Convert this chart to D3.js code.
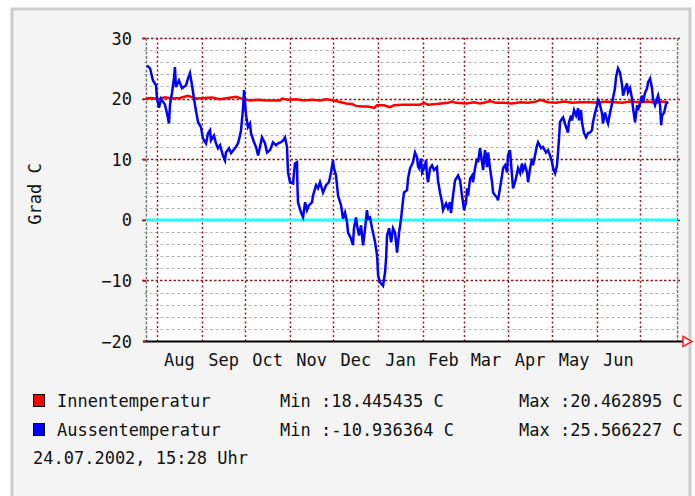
<!DOCTYPE html>
<html>
<head>
<meta charset="utf-8">
<script src="https://cdn.jsdelivr.net/npm/d3@7"></script>
<style>
  html, body { margin: 0; padding: 0; background: #fff; }
  svg { display: block; }
  text { font-family: "DejaVu Sans Mono", "Liberation Mono", monospace; font-size: 17px; fill: #111; }
</style>
</head>
<body>
<div id="chart"></div>
<script>
// days after 2001-08-01 and daily temperature readings (Grad C)
const outsideDays = [
  -6.9, -4.8, -2.8, -0.7, 0, 1.4, 2.8, 5.5, 6.9, 8.3, 9.0, 10.4, 11.8, 12.4, 13.1, 15.2, 17.3, 20.1, 21.4, 22.8,
  24.2, 26.3, 28.4, 30.4, 31.8, 33.9, 35.3, 36.7, 37.3, 39.4, 40.8, 42.2, 43.6, 45.6, 47.0, 47.7, 49.8, 51.2, 53.9, 56.0,
  57.4, 58.1, 59.5, 60.2, 61.6, 62.9, 64.3, 65.0, 67.1, 68.5, 69.9, 71.2, 72.6, 74.7, 76.1, 78.2, 80.2, 82.3, 83.7, 85.8,
  87.2, 88.5, 89.9, 90.6, 92.0, 94.1, 95.4, 96.8, 97.1, 97.5, 99.6, 101.0, 102.4, 103.7, 105.1, 107.2, 107.9, 110.0, 111.3, 112.7,
  114.8, 116.9, 118.9, 120.3, 121.7, 122.4, 123.8, 125.2, 127.3, 128.6, 130.0, 131.4, 132.1, 134.2, 135.5, 136.2, 137.6, 138.3, 139.7, 141.1,
  142.5, 143.9, 145.2, 145.9, 147.3, 148.7, 149.4, 150.8, 152.2, 152.9, 154.2, 156.3, 157.7, 158.4, 159.1, 160.5, 161.9, 163.2, 164.6, 165.3,
  166.0, 167.4, 168.8, 169.5, 170.8, 172.9, 173.6, 175.0, 177.0, 178.4, 179.8, 180.5, 181.2, 182.6, 183.3, 184.7, 186.1, 186.7, 187.4, 188.8,
  190.2, 191.6, 193.6, 194.3, 195.7, 197.1, 197.8, 199.9, 201.2, 202.6, 203.3, 204.7, 206.1, 208.2, 209.6, 210.9, 211.6, 212.3, 213.7, 214.4,
  215.1, 216.5, 217.9, 218.5, 219.9, 221.3, 222.0, 223.4, 224.8, 225.5, 226.8, 228.2, 228.9, 230.3, 231.7, 232.4, 233.8, 235.1, 235.8, 237.2,
  238.6, 239.3, 240.7, 242.1, 242.7, 244.1, 245.5, 246.2, 247.6, 249.0, 249.7, 251.1, 252.4, 253.1, 254.5, 255.9, 256.6, 258.0, 259.4, 260.0,
  261.4, 262.8, 263.5, 265.6, 267.0, 269.0, 270.4, 271.8, 273.2, 273.9, 275.3, 276.6, 277.3, 278.0, 278.7, 280.1, 280.8, 282.9, 284.2, 284.9,
  286.3, 287.0, 288.4, 289.8, 291.2, 291.8, 293.2, 293.9, 295.3, 296.7, 298.1, 299.5, 300.8, 301.5, 302.9, 304.3, 305.0, 306.4, 307.7, 308.4,
  309.8, 311.2, 311.9, 313.3, 314.7, 315.4, 316.7, 317.4, 318.8, 320.2, 321.6, 322.3, 323.7, 325.0, 325.7, 327.1, 328.5, 329.2, 330.6, 332.0,
  332.6, 334.0, 335.4, 336.1, 337.5, 338.9, 339.6, 341.0, 342.3, 343.0, 344.4, 345.8, 346.5, 347.9, 348.6, 349.3, 350.7, 352.1, 353.5
];
const outsideTemp = [
  25.5, 25, 23, 22.2, 20, 18.5, 20, 19, 17.6, 15.9, 19, 21, 23.5, 25.2, 21.9, 23, 21.7, 22.2, 23.3, 24.2,
  22.2, 18.9, 16.1, 15.3, 13.4, 12.6, 14.3, 14.8, 13.1, 13.9, 12.6, 11.8, 12.3, 10.6, 9.8, 11.1, 11.8, 11, 11.8, 12.6,
  13.9, 14.8, 18.4, 21.4, 17.2, 15.3, 15.9, 14.3, 12.8, 12, 10.6, 12, 13.6, 12.6, 11.1, 11.5, 12.8, 12.3, 12.6, 12.8,
  13.1, 13.6, 12, 7.8, 6.2, 6, 9.3, 9.5, 5.7, 2.9, 1.2, 0.4, 2.9, 1.6, 2.4, 2.9, 4, 5.7, 5.2, 6.2,
  4.5, 5.7, 6.2, 7.8, 9.8, 8.5, 7.3, 4, 2.4, 0.2, 1.2, -0.4, -2.1, -3.1, -4.2, -1.4, 0.4, -0.9, -2.6, -0.9,
  -4.2, -1.4, 1.6, 0.2, 0.4, -1.4, -2.1, -3.7, -5.9, -9.2, -10.3, -10.9, -8.7, -6.4, -2.6, -1.4, -3.7, -1.4, -2.1, -3.7,
  -5.4, -2.1, 0.2, 1.9, 4.5, 4.9, 6.8, 8.5, 9.5, 11.1, 10.3, 8.8, 8.5, 10.1, 7.8, 8.5, 9.8, 7.3, 6.2, 8.5,
  9, 8.2, 8.7, 6.5, 4.5, 2.9, 1.6, 2.7, 1.9, 2.9, 1.1, 4, 6.5, 7.3, 6.5, 4, 2.9, 1.6, 2.9, 5.2,
  4, 6.8, 7.3, 6.2, 8.5, 10.1, 9.5, 11.8, 9.5, 8.2, 11.5, 8.7, 11.1, 8.5, 6.2, 4.5, 4, 3.7, 3.2, 5.2,
  7.3, 8.5, 9, 7.8, 10.6, 11.5, 7.3, 5.2, 6.2, 7.7, 8.5, 7.7, 9.3, 8.2, 9, 7.8, 6.2, 8.5, 10.1, 9,
  10.6, 12.3, 12.8, 11.8, 12, 11.1, 11.5, 10.6, 9.5, 8.5, 7.7, 9, 11.1, 13.4, 16.1, 16.7, 16.9, 15.3, 14.4, 16.1,
  17.2, 16.4, 18.1, 17.2, 18.4, 16.4, 18.1, 16.1, 14.3, 13.6, 14.3, 14.4, 14.8, 16.1, 17.6, 18.9, 20, 18.9, 17.6, 15.9,
  17.7, 16.4, 15.9, 17.7, 19.2, 20.2, 21.7, 23.5, 25, 24.3, 22.2, 20.5, 21.7, 22.5, 21, 21.7, 20, 18.4, 16.1, 18.9,
  18.1, 19.2, 20.5, 19.4, 21, 21.7, 22.7, 23.3, 21.7, 20, 18.9, 20, 20.5, 18.9, 15.6, 17.2, 17.7, 19.2, 19.4
];

const insideDays = [
  -7.6, -3.5, 0.7, 5.5, 10.4, 15.9, 21.4, 27.0, 32.5, 38.0, 43.6, 49.1, 54.6, 58.8, 64.3, 69.9, 75.4, 85.1, 86.4, 90.6,
  96.1, 101.7, 107.2, 112.7, 116.9, 122.4, 130.7, 134.9, 137.6, 141.8, 145.9, 150.1, 152.2, 157.0, 161.1, 163.9, 169.4, 176.4, 181.9, 184.7,
  187.4, 193.0, 201.3, 204.0, 206.8, 213.7, 219.2, 223.4, 227.5, 230.3, 234.4, 240.0, 245.5, 251.1, 256.6, 262.1, 264.9, 270.4, 275.9, 281.5,
  287.0, 292.5, 299.5, 305.0, 310.5, 316.0, 321.6, 327.1, 334.0, 339.6, 345.1, 349.3, 353.5
];
const insideTemp = [
  20.0, 20.1, 19.9, 20.2, 20.0, 20.1, 20.46, 20.0, 20.1, 20.2, 19.9, 20.1, 20.3, 20.0, 19.7, 19.8, 19.7, 19.7, 20.0, 19.8,
  19.9, 19.7, 19.8, 19.7, 19.9, 19.7, 19.2, 19.1, 18.8, 18.7, 18.7, 18.45, 18.9, 18.9, 18.6, 18.9, 19.0, 19.0, 19.0, 19.3,
  19.0, 19.1, 19.3, 19.5, 19.3, 19.2, 19.4, 19.2, 19.4, 19.6, 19.3, 19.3, 19.2, 19.4, 19.3, 19.5, 19.8, 19.4, 19.3, 19.5,
  19.3, 19.4, 19.4, 19.3, 19.5, 19.4, 19.3, 19.5, 19.4, 19.5, 19.3, 19.5, 19.4
];

const yTicks = [-20, -10, 0, 10, 20, 30];
const monthLabels = ["Aug", "Sep", "Oct", "Nov", "Dec", "Jan", "Feb", "Mar", "Apr", "May", "Jun"];
const legendNames = ["Innentemperatur", "Aussentemperatur"];
const legendColors = ["#ff0000", "#0000ff"];
const legendMin = ["18.445435", "-10.936364"];
const legendMax = ["20.462895", "25.566227"];
const stamp = "24.07.2002, 15:28 Uhr";

const width = 695, height = 496;
const plot = { left: 146, right: 677, top: 38, bottom: 341 };
const base = new Date(2001, 7, 1);
const day = 864e5;
const toDate = d => new Date(base.getTime() + d * day);

const svg = d3.select("#chart").append("svg")
  .attr("width", width)
  .attr("height", height);

// frame
svg.append("rect").attr("width", width).attr("height", height).attr("fill", "#fff");
svg.append("rect")
  .attr("x", 12).attr("y", 9).attr("width", 678).attr("height", 500)
  .attr("fill", "#f4f4f4").attr("stroke", "#cdcdcd").attr("stroke-width", 3);
svg.append("rect")
  .attr("x", plot.left).attr("y", plot.top)
  .attr("width", plot.right - plot.left).attr("height", plot.bottom - plot.top)
  .attr("fill", "#fff");

// scales
const x = d3.scaleTime()
  .domain([toDate(-7.607), toDate(359.586)])
  .range([plot.left, plot.right]);
const y = d3.scaleLinear()
  .domain([-20, 30])
  .range([plot.bottom, plot.top]);

// minor horizontal grid
const minor = y.ticks(25).filter(v => v % 10 !== 0);
svg.append("g").selectAll("line").data(minor).join("line")
  .attr("x1", plot.left - 2).attr("x2", plot.right)
  .attr("y1", d => Math.round(y(d)) + 0.5).attr("y2", d => Math.round(y(d)) + 0.5)
  .attr("stroke", "#b4b4b4").attr("stroke-width", 1).attr("stroke-dasharray", "3,2.5");

// month grid lines
const months = d3.timeMonth.range(d3.timeMonth.ceil(x.domain()[0]), x.domain()[1]);
svg.append("g").selectAll("line").data(months).join("line")
  .attr("x1", d => Math.round(x(d)) + 0.5).attr("x2", d => Math.round(x(d)) + 0.5)
  .attr("y1", plot.top).attr("y2", plot.bottom + 3)
  .attr("stroke", "#8a2020").attr("stroke-width", 1.5).attr("stroke-dasharray", "2,2.5");

// major horizontal grid
svg.append("g").selectAll("line").data(yTicks.filter(v => v !== -20)).join("line")
  .attr("x1", plot.left - 4).attr("x2", plot.right + 3)
  .attr("y1", d => Math.round(y(d)) + 0.5).attr("y2", d => Math.round(y(d)) + 0.5)
  .attr("stroke", "#8a2020").attr("stroke-width", 1.5).attr("stroke-dasharray", "2.5,2");

// side edges
svg.append("g").selectAll("line").data([plot.left, plot.right]).join("line")
  .attr("x1", d => d + 0.5).attr("x2", d => d + 0.5)
  .attr("y1", plot.top).attr("y2", plot.bottom)
  .attr("stroke", "#7a7a7a").attr("stroke-width", 1.5).attr("stroke-dasharray", "3,1.5");

// zero rule
svg.append("line")
  .attr("x1", plot.left).attr("x2", plot.right)
  .attr("y1", y(0)).attr("y2", y(0))
  .attr("stroke", "#22ffff").attr("stroke-width", 2.5);

// series
const line = d3.line().x(d => x(d[0])).y(d => y(d[1]));
const inside = insideDays.map((d, i) => [toDate(d), insideTemp[i]]);
const outside = outsideDays.map((d, i) => [toDate(d), outsideTemp[i]]);

svg.append("path").datum(inside)
  .attr("d", line).attr("fill", "none")
  .attr("stroke", "#ff0000").attr("stroke-width", 2.5);
svg.append("path").datum(outside)
  .attr("d", line).attr("fill", "none")
  .attr("stroke", "#0000ff").attr("stroke-width", 2.5)
  .attr("stroke-linejoin", "miter");

// x axis
svg.append("line")
  .attr("x1", plot.left - 3).attr("x2", plot.right + 8)
  .attr("y1", plot.bottom + 0.5).attr("y2", plot.bottom + 0.5)
  .attr("stroke", "#000").attr("stroke-width", 2);
svg.append("path")
  .attr("d", `M${plot.right + 6},${plot.bottom - 4.5}L${plot.right + 15},${plot.bottom + 0.5}L${plot.right + 6},${plot.bottom + 5.5}Z`)
  .attr("fill", "#fff").attr("stroke", "#ff2020").attr("stroke-width", 1.5);

// month labels, centred on each month
svg.append("g").selectAll("text").data(monthLabels).join("text")
  .attr("x", (d, i) => {
    const m = months[i];
    return (x(m) + x(d3.timeMonth.offset(m, 1))) / 2;
  })
  .attr("y", 366)
  .attr("text-anchor", "middle")
  .text(d => d);

// y axis
const yAxis = svg.append("g")
  .attr("transform", `translate(${plot.left},0)`)
  .call(d3.axisLeft(y).tickValues(yTicks).tickSize(3).tickPadding(11));
yAxis.select(".domain").remove();
yAxis.selectAll(".tick line").attr("stroke", "#b02020").attr("stroke-width", 2);
yAxis.selectAll(".tick text")
  .attr("font-family", null).attr("font-size", null)
  .attr("fill", null).attr("dy", "0.36em");

svg.append("text")
  .attr("transform", "translate(41,194) rotate(-90)")
  .attr("text-anchor", "middle")
  .text("Grad C");

// legend
const leg = svg.append("g").selectAll("g").data(legendNames).join("g")
  .attr("transform", (d, i) => `translate(0,${407 + i * 29})`);
leg.append("rect")
  .attr("x", 33.5).attr("y", -12.5).attr("width", 11).attr("height", 12)
  .attr("fill", (d, i) => legendColors[i]).attr("stroke", "#000").attr("stroke-width", 1);
leg.append("text").attr("x", 57).text(d => d);
leg.append("text").attr("x", 280).text((d, i) => "Min :" + legendMin[i] + " C");
leg.append("text").attr("x", 519).text((d, i) => "Max :" + legendMax[i] + " C");

svg.append("text").attr("x", 33).attr("y", 464).text(stamp);
</script>
</body>
</html>
